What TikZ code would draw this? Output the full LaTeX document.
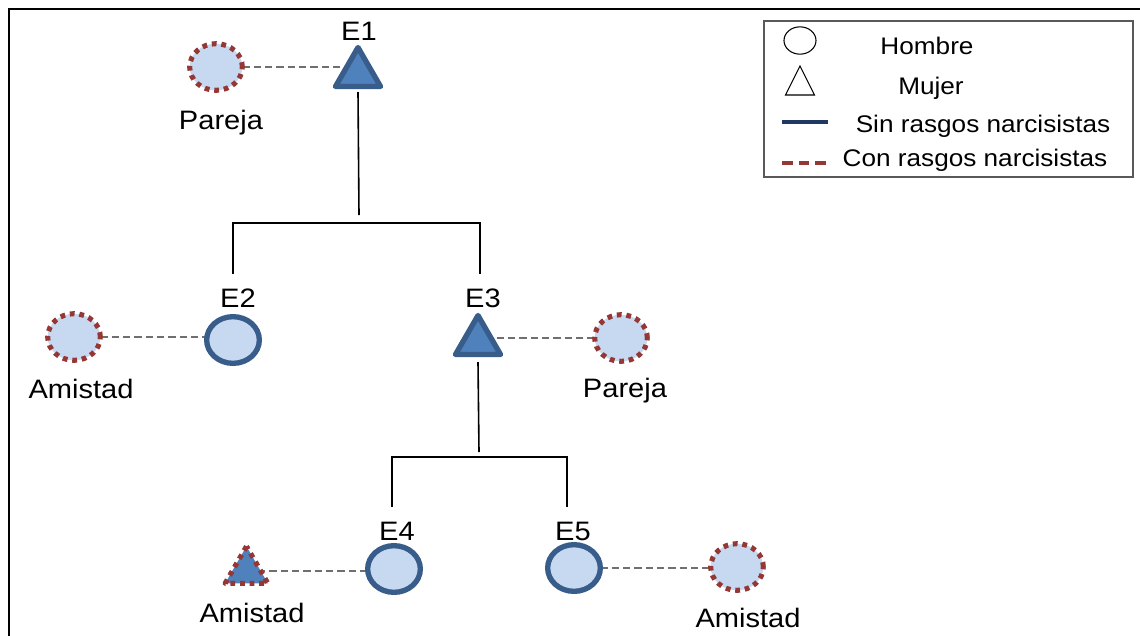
\documentclass[tikz,border=0pt]{standalone}
\usepackage{fontspec}
\setmainfont{Liberation Sans}[FakeStretch=1.09]
\usetikzlibrary{shapes.geometric,backgrounds}
\definecolor{bordblue}{HTML}{385D8A}
\definecolor{manfill}{HTML}{C6D9F1}
\definecolor{womfill}{HTML}{4F81BD}
\definecolor{narc}{HTML}{953735}
\definecolor{navy}{HTML}{1F3864}
\definecolor{linkgray}{HTML}{6F6F6F}
\definecolor{legbord}{HTML}{595959}
\tikzset{
  manbase/.style={ellipse, fill=manfill, inner sep=0pt, outer sep=0pt, minimum width=39.5pt, minimum height=35pt},
  plainman/.style={manbase, draw=bordblue, line width=4pt},
  narcman/.style={manbase, draw=narc, line width=3.8pt, dash pattern=on 3.6pt off 3.6pt},
  tribase/.style={regular polygon, regular polygon sides=3, fill=womfill, inner sep=0pt, outer sep=0pt, minimum size=39pt, line join=round},
  plainwoman/.style={tribase, draw=bordblue, line width=4pt},
  narcwoman/.style={tribase, draw=narc, line width=3.8pt, dash pattern=on 3.6pt off 3.6pt, minimum size=37pt},
  lbl/.style={anchor=base, inner sep=0pt, font=\fontsize{20}{23}\selectfont},
  leglbl/.style={anchor=base, inner sep=0pt, font=\fontsize{18}{21}\selectfont},
  link/.style={draw=linkgray, line width=1.6pt, dash pattern=on 5.5pt off 3pt},
  tree/.style={draw=black, line width=1.2pt},
}
\begin{document}
\begin{tikzpicture}[x=0.75pt,y=-0.75pt]
\useasboundingbox (0,0) rectangle (1140,636);
% frame
\coordinate (fbl) at (9,636);
\coordinate (ftl) at (9,9);
\coordinate (ftr) at (1140,9);
\draw[line width=1.3pt] (fbl) -- (ftl) -- (ftr);

% persons
\node[plainwoman] (e1) at (358,73.5) {};
\node[narcman] (p1) at (216,67) {};
\node[plainman] (e2) at (233,340) {};
\node[narcman] (a2) at (74,337) {};
\node[plainwoman] (e3) at (478,341.5) {};
\node[narcman] (p3) at (621,338) {};
\node[plainman] (e4) at (394,569) {};
\node[narcwoman] (a4) at (246.5,571) {};
\node[plainman] (e5) at (574,568) {};
\node[narcman] (a5) at (737,567) {};

% labels
\node[lbl] (l1) at (359,40) {E1};
\node[lbl] (lp1) at (221,129) {Pareja};
\node[lbl] (l2) at (238,307) {E2};
\node[lbl] (la2) at (81,398) {Amistad};
\node[lbl] (l3) at (483,307) {E3};
\node[lbl] (lp3) at (625,397) {Pareja};
\node[lbl] (l4) at (397,540) {E4};
\node[lbl] (la4) at (252,622) {Amistad};
\node[lbl] (l5) at (573,540) {E5};
\node[lbl] (la5) at (748,627) {Amistad};

% relation links
\begin{scope}[on background layer]
\draw[link] (p1.east) -- (p1.east -| e1);
\draw[link] (a2.east) -- (a2.east -| e2);
\draw[link] (p3.west) -- (p3.west -| e3);
\draw[link] (a4.center) -- (a4.center -| e4);
\draw[link] (e5.east) -- (e5.east -| a5);
\end{scope}

% tree
\coordinate (j1) at (359,215);
\coordinate (b1l) at (233,223);
\coordinate (b1r) at (480,223);
\coordinate (t2) at (233,274);
\coordinate (t3) at (480,274);
\draw[tree] (e1.south |- 0,92) -- (j1);
\draw[tree] (t2) -- (b1l) -- (b1r) -- (t3);
\coordinate (j3) at (479,452);
\coordinate (b3l) at (392,457);
\coordinate (b3r) at (567,457);
\coordinate (t4) at (392,507);
\coordinate (t5) at (567,507);
\draw[tree] (e3.south |- 0,362) -- (j3);
\draw[tree] (t4) -- (b3l) -- (b3r) -- (t5);

% legend
\coordinate (lg1) at (764,21);
\coordinate (lg2) at (1133,177);
\draw[legbord, line width=1.1pt] (lg1) rectangle (lg2);
\node[ellipse, draw=black, line width=0.8pt, minimum width=24pt, minimum height=20.5pt, inner sep=0pt] (lgm) at (800,40.5) {};
\coordinate (lgw) at (800,80);
\draw[black, line width=0.8pt, line join=miter] (lgw) ++(0,-14) -- ++(14.5,29) -- ++(-29,0) -- cycle;
\coordinate (ls1) at (782,122);
\coordinate (ls2) at (828,122);
\draw[navy, line width=2.4pt] (ls1) -- (ls2);
\coordinate (lc1) at (782,163);
\coordinate (lc2) at (826,163);
\draw[narc, line width=2.4pt, dash pattern=on 8pt off 4.5pt] (lc1) -- (lc2);
\node[leglbl] (th) at (927,54) {Hombre};
\node[leglbl] (tm) at (931,94) {Mujer};
\node[leglbl] (ts) at (983,132) {Sin rasgos narcisistas};
\node[leglbl] (tc) at (975,166) {Con rasgos narcisistas};
\end{tikzpicture}
\end{document}
